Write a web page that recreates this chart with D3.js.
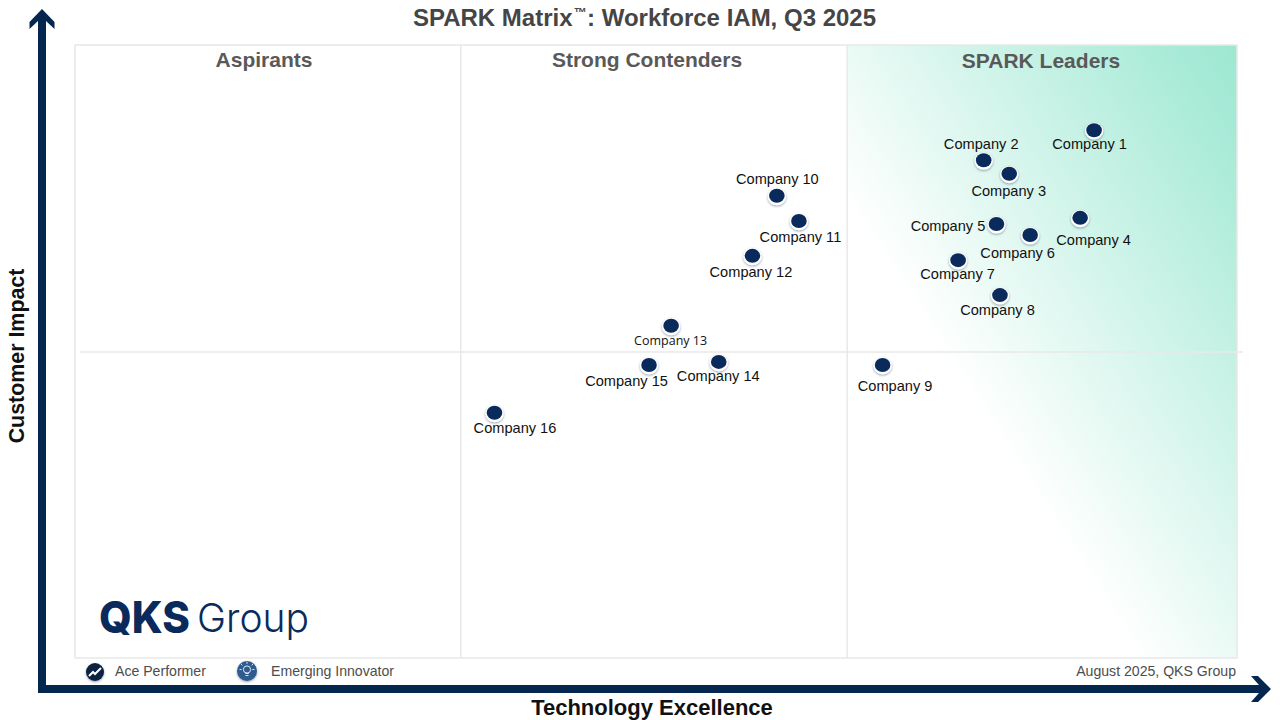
<!DOCTYPE html>
<html>
<head>
<meta charset="utf-8">
<script src="https://cdn.jsdelivr.net/npm/d3@7"></script>
<style>
  html, body { margin: 0; padding: 0; background: #fff; }
  text { font-family: "Liberation Sans", Arial, sans-serif; }
</style>
</head>
<body>
<div id="chart"></div>
<script>
// values, 0-100 on both axes
const companies = ["Company 1", "Company 2", "Company 3", "Company 4", "Company 5", "Company 6", "Company 7", "Company 8",
  "Company 9", "Company 10", "Company 11", "Company 12", "Company 13", "Company 14", "Company 15", "Company 16"];
const techExcellence = [87.7, 78.2, 80.4, 86.5, 79.3, 82.2, 76.0, 79.6, 69.5, 60.4, 62.3, 58.3, 51.3, 55.4, 49.4, 36.1];
const customerImpact = [86.1, 81.2, 79.0, 71.8, 70.8, 69.0, 64.9, 59.2, 47.8, 75.4, 71.3, 65.6, 54.2, 48.3, 47.8, 40.0];
const quadrants = ["Aspirants", "Strong Contenders", "SPARK Leaders"];
const xSplits = [33.2, 66.45];
const ySplit = 49.9;

// where each label sits relative to its point
const labelOffsets = [[-5, 19], [-3, -11], [-1, 22], [13, 27], [-49, 7], [-13, 23], [-1, 19], [-3, 20],
  [12, 26], [0, -12], [1, 21], [-2, 21], [-1, 19], [-1, 19], [-23, 21], [20, 20]];

const width = 1280, height = 720;
const navy = "#0a2a5c";
const arrowColor = "#04264f";
const gridColor = "#e8e8e8";
const plot = { left: 75, right: 1237, top: 45, bottom: 658 };

const x = d3.scaleLinear().domain([0, 100]).range([plot.left, plot.right]);
const y = d3.scaleLinear().domain([0, 100]).range([plot.bottom, plot.top]);

const svg = d3.select("#chart").append("svg")
  .attr("width", width)
  .attr("height", height)
  .style("display", "block");

const defs = svg.append("defs");

// leaders background, fades from the top right corner
const grad = defs.append("linearGradient")
  .attr("id", "leaders")
  .attr("gradientUnits", "userSpaceOnUse")
  .attr("x1", 1237).attr("y1", 45)
  .attr("x2", 888).attr("y2", 268);
grad.selectAll("stop")
  .data([[0, "#9de8d1"], [0.12, "#a6ead6"], [1, "#ffffff"]])
  .join("stop")
  .attr("offset", d => d[0])
  .attr("stop-color", d => d[1]);

const shadow = defs.append("filter")
  .attr("id", "shadow")
  .attr("x", "-50%").attr("y", "-50%").attr("width", "200%").attr("height", "200%");
shadow.append("feDropShadow")
  .attr("dx", 0).attr("dy", 1)
  .attr("stdDeviation", 1)
  .attr("flood-color", "#2b3f5c")
  .attr("flood-opacity", 0.5);

// plot area
svg.append("rect")
  .attr("x", x(xSplits[1])).attr("y", plot.top)
  .attr("width", plot.right - x(xSplits[1])).attr("height", plot.bottom - plot.top)
  .attr("fill", "url(#leaders)");

svg.append("rect")
  .attr("x", plot.left).attr("y", plot.top)
  .attr("width", plot.right - plot.left).attr("height", plot.bottom - plot.top)
  .attr("fill", "none")
  .attr("stroke", gridColor)
  .attr("stroke-width", 1.5);

svg.selectAll("line.split")
  .data(xSplits)
  .join("line")
  .attr("class", "split")
  .attr("x1", d => x(d)).attr("x2", d => x(d))
  .attr("y1", plot.top).attr("y2", plot.bottom)
  .attr("stroke", gridColor)
  .attr("stroke-width", 1.5);

svg.append("line")
  .attr("x1", plot.left + 5).attr("x2", plot.right + 6)
  .attr("y1", y(ySplit)).attr("y2", y(ySplit))
  .attr("stroke", gridColor)
  .attr("stroke-width", 1.5);

// quadrant names
const quadrantX = [264, 647, 1041];
svg.selectAll("text.quadrant")
  .data(quadrants)
  .join("text")
  .attr("class", "quadrant")
  .attr("x", (d, i) => quadrantX[i])
  .attr("y", (d, i) => i == 2 ? 68 : 67)
  .attr("text-anchor", "middle")
  .attr("font-size", 21)
  .attr("font-weight", "bold")
  .attr("fill", "#595959")
  .text(d => d);

// title
const title = svg.append("text")
  .attr("x", 644.5).attr("y", 26)
  .attr("text-anchor", "middle")
  .attr("font-size", 24)
  .attr("font-weight", "bold")
  .attr("fill", "#454545");
title.append("tspan").text("SPARK Matrix");
title.append("tspan").attr("font-size", 13).attr("dx", 1.5).attr("dy", -9).text("™");
title.append("tspan").attr("dy", 9).text(": Workforce IAM, Q3 2025");

// axis arrows
svg.append("path")
  .attr("fill", arrowColor)
  .attr("d", "M42,9 L54.5,22 L54.5,29 L46,21 L46,685 L1259,685 L1251,676 L1258,676 L1271,689 L1258,702 L1251,702 L1259,693 L38,693 L38,21 L29.5,29 L29.5,22 Z");

svg.append("text")
  .attr("x", 652).attr("y", 715)
  .attr("text-anchor", "middle")
  .attr("font-size", 22)
  .attr("font-weight", "bold")
  .attr("fill", "#111")
  .text("Technology Excellence");

svg.append("text")
  .attr("transform", "translate(24,356) rotate(-90)")
  .attr("text-anchor", "middle")
  .attr("font-size", 21.4)
  .attr("font-weight", "bold")
  .attr("fill", "#111")
  .text("Customer Impact");

// logo
svg.append("text")
  .attr("x", 99).attr("y", 632.5)
  .attr("font-size", 44)
  .attr("font-weight", 800)
  .attr("fill", navy)
  .attr("textLength", 91)
  .attr("lengthAdjust", "spacingAndGlyphs")
  .style("font-family", "Inter")
  .text("QKS");
svg.append("text")
  .attr("x", 197).attr("y", 632)
  .attr("font-size", 40)
  .attr("font-weight", 300)
  .attr("fill", navy)
  .attr("textLength", 112)
  .attr("lengthAdjust", "spacingAndGlyphs")
  .style("font-family", "Inter")
  .text("Group");

// legend
const legendFont = { size: 14.1, fill: "#4d4d4d" };
svg.append("circle")
  .attr("cx", 95).attr("cy", 672).attr("r", 9)
  .attr("fill", "#0c2340")
  .attr("filter", "url(#shadow)");
svg.append("path")
  .attr("d", "M89,676 L93,672 L95,674 L101,668")
  .attr("fill", "none")
  .attr("stroke", "#fff")
  .attr("stroke-width", 2);

svg.append("circle")
  .attr("cx", 247).attr("cy", 671).attr("r", 10)
  .attr("fill", "#2f5c8f")
  .attr("filter", "url(#shadow)");
svg.append("circle")
  .attr("cx", 247).attr("cy", 669.5).attr("r", 3.6)
  .attr("fill", "none")
  .attr("stroke", "#dfe9f3")
  .attr("stroke-width", 1);
svg.append("path")
  .attr("d", "M245.3,673.5 L248.7,673.5 M245.5,675.5 L248.5,675.5 M247,661.8 L247,663.8 M241,664 L242.4,665.3 M253,664 L251.6,665.3 M239.6,669.5 L241.6,669.5 M254.4,669.5 L252.4,669.5")
  .attr("stroke", "#dfe9f3")
  .attr("stroke-width", 1)
  .attr("fill", "none");

svg.selectAll("text.legend")
  .data([["Ace Performer", 115], ["Emerging Innovator", 271]])
  .join("text")
  .attr("class", "legend")
  .attr("x", d => d[1]).attr("y", 676)
  .attr("font-size", legendFont.size)
  .attr("fill", legendFont.fill)
  .text(d => d[0]);

svg.append("text")
  .attr("x", 1236).attr("y", 676)
  .attr("text-anchor", "end")
  .attr("font-size", legendFont.size)
  .attr("fill", legendFont.fill)
  .text("August 2025, QKS Group");

// points
const points = svg.append("g").selectAll("g")
  .data(companies)
  .join("g")
  .attr("transform", (d, i) => "translate(" + x(techExcellence[i]) + "," + y(customerImpact[i]) + ")");

points.append("ellipse")
  .attr("cy", 0.8)
  .attr("rx", 9.2).attr("ry", 8.6)
  .attr("fill", "#fff")
  .attr("filter", "url(#shadow)");

points.append("ellipse")
  .attr("rx", 7.8).attr("ry", 7)
  .attr("fill", navy);

points.append("text")
  .attr("x", (d, i) => labelOffsets[i][0] + 0.5)
  .attr("y", (d, i) => labelOffsets[i][1])
  .attr("text-anchor", "middle")
  .attr("font-size", d => d == "Company 13" ? 12.5 : 14.6)
  .attr("fill", "#111")
  .style("font-family", d => d == "Company 13" ? "'Open Sans'" : null)
  .text(d => d);
</script>
</body>
</html>
